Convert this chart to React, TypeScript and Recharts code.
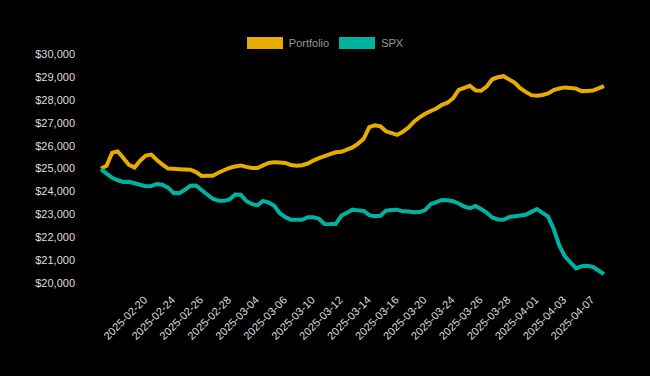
import React from "react";
import { LineChart, Line, XAxis, YAxis, Legend } from "recharts";

const portfolio = [
  25000, 25116, 25690, 25747, 25462, 25156, 25046, 25340, 25567, 25607,
  25370, 25169, 24998, 24985, 24972, 24959, 24945, 24845, 24674, 24678,
  24687, 24814, 24924, 25024, 25090, 25134, 25072, 25020, 25020, 25138,
  25239, 25278, 25265, 25243, 25151, 25121, 25143, 25217, 25348, 25449,
  25541, 25624, 25708, 25729, 25826, 25922, 26089, 26295, 26803, 26886,
  26838, 26623, 26544, 26465, 26601, 26785, 27043, 27236, 27390, 27512,
  27622, 27784, 27871, 28068, 28432, 28524, 28612, 28410, 28393, 28576,
  28896, 28984, 29032, 28892, 28752, 28506, 28344, 28204, 28182, 28213,
  28279, 28423, 28493, 28541, 28515, 28489, 28379, 28388, 28401, 28498, 28598,
];

const spx = [
  24970, 24779, 24595, 24486, 24411, 24420, 24354, 24288, 24227, 24231,
  24324, 24288, 24166, 23934, 23925, 24069, 24245, 24258, 24061, 23864,
  23680, 23592, 23588, 23653, 23859, 23855, 23583, 23452, 23391, 23583,
  23513, 23373, 23045, 22874, 22764, 22764, 22764, 22874, 22874, 22808,
  22580, 22571, 22575, 22939, 23071, 23202, 23172, 23145, 22961, 22913,
  22935, 23163, 23189, 23202, 23128, 23124, 23088, 23097, 23185, 23443,
  23535, 23627, 23614, 23570, 23474, 23338, 23264, 23360, 23233, 23071,
  22861, 22773, 22760, 22878, 22913, 22944, 22979, 23106, 23233, 23066,
  22900, 22357, 21639, 21166, 20903, 20636, 20728, 20754, 20706, 20548, 20386,
];

const tickLabels = [
  "2025-02-20", "2025-02-24", "2025-02-26", "2025-02-28", "2025-03-04",
  "2025-03-06", "2025-03-10", "2025-03-12", "2025-03-14", "2025-03-16",
  "2025-03-20", "2025-03-24", "2025-03-26", "2025-03-28", "2025-04-01",
  "2025-04-03", "2025-04-07",
];
const tickIndex = [9, 14, 19, 24, 29, 34, 39, 44, 49, 54, 59, 64, 69, 74, 79, 84, 89];

const yTicks = [20000, 21000, 22000, 23000, 24000, 25000, 26000, 27000, 28000, 29000, 30000];

const ORANGE = "#E6AC00";
const TEAL = "#00B3A1";
const FONT = "'Liberation Sans', Arial, Helvetica, sans-serif";

const data = portfolio.map((p, i) => ({ i, Portfolio: p, SPX: spx[i] }));

const labelFor = (v: number) => {
  const k = tickIndex.indexOf(v);
  return k >= 0 ? tickLabels[k] : "";
};

const XTick = (props: any) => {
  const { x, y, payload } = props;
  const ax = x - 6;
  const ay = y + 15;
  return (
    <text
      x={ax}
      y={ay}
      dy="0.35em"
      textAnchor="end"
      transform={`rotate(-45, ${ax}, ${ay})`}
      fill="#dddddd"
      fontSize={11}
      fontFamily={FONT}
    >
      {labelFor(payload.value)}
    </text>
  );
};

const LegendContent = () => {
  const items = [
    { name: "Portfolio", color: ORANGE },
    { name: "SPX", color: TEAL },
  ];
  return (
    <div
      style={{
        display: "flex",
        justifyContent: "center",
        alignItems: "center",
        fontFamily: FONT,
        fontSize: 11,
        color: "#999999",
      }}
    >
      {items.map((it, k) => (
        <div
          key={it.name}
          style={{ display: "flex", alignItems: "center", marginLeft: k === 0 ? 0 : 10 }}
        >
          <div
            style={{
              width: 34,
              height: 10,
              background: it.color,
              border: `1px solid ${it.color}`,
              marginRight: 6,
            }}
          />
          <span>{it.name}</span>
        </div>
      ))}
    </div>
  );
};

export default function App() {
  return (
    <div
      style={{
        position: "fixed",
        left: 0,
        top: 0,
        width: 650,
        height: 376,
        background: "#000000",
      }}
    >
      <LineChart
        width={650}
        height={376}
        data={data}
        margin={{ top: 54, right: 46, left: 0, bottom: 33 }}
      >
        <XAxis
          dataKey="i"
          type="number"
          domain={[0, 90]}
          ticks={tickIndex}
          interval={0}
          axisLine={false}
          tickLine={false}
          tickSize={0}
          tickMargin={0}
          height={60}
          tick={<XTick />}
        />
        <YAxis
          type="number"
          domain={[20000, 30000]}
          ticks={yTicks}
          interval={0}
          width={101}
          axisLine={false}
          tickLine={false}
          tickSize={0}
          tickMargin={26}
          tick={{ fill: "#dddddd", fontSize: 11, fontFamily: FONT }}
          tickFormatter={(v: number) => `$${v.toLocaleString("en-US")}`}
        />
        <Legend
          verticalAlign="middle"
          align="center"
          layout="horizontal"
          wrapperStyle={{ top: 37, left: 0, width: 650 }}
          content={<LegendContent />}
        />
        <Line
          type="linear"
          dataKey="Portfolio"
          stroke={ORANGE}
          strokeWidth={4}
          dot={false}
          isAnimationActive={false}
        />
        <Line
          type="linear"
          dataKey="SPX"
          stroke={TEAL}
          strokeWidth={4}
          dot={false}
          isAnimationActive={false}
        />
      </LineChart>
    </div>
  );
}
